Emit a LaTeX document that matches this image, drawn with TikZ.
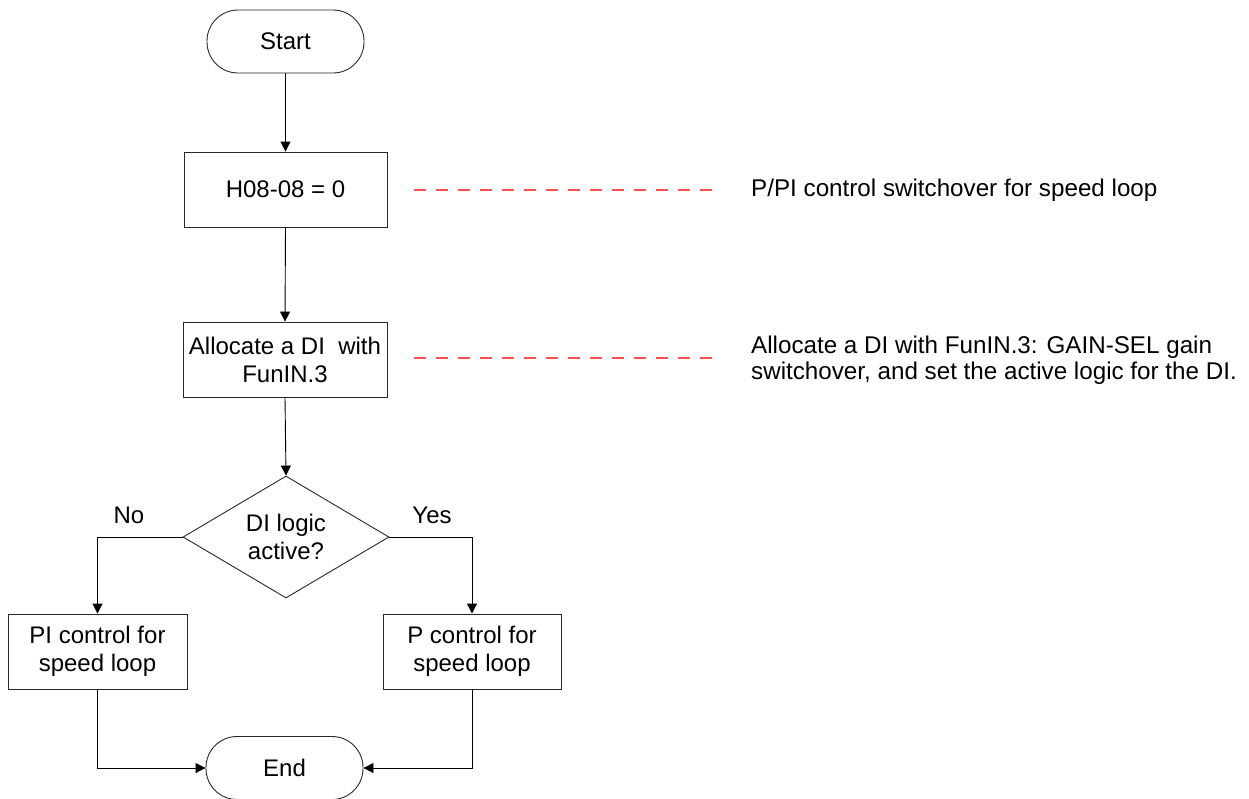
\documentclass[tikz,border=0pt]{standalone}
\usepackage{fontspec}
\setmainfont{Liberation Sans}
\usetikzlibrary{arrows.meta,shapes.geometric}
\definecolor{dashred}{RGB}{255,80,80}
\definecolor{lineblk}{RGB}{40,40,40}
\tikzset{
  every node/.style={font=\fontsize{24}{28}\selectfont, inner sep=0pt},
  procbox/.style={draw=lineblk, line width=0.9pt, rectangle, align=center},
  termbox/.style={draw=lineblk, line width=0.9pt, rectangle, rounded corners=31pt, align=center},
  decbox/.style={draw=lineblk, line width=0.9pt, diamond, aspect=1.69, align=center},
  flow/.style={draw=black, line width=0.9pt, -{Triangle[length=10pt,width=10pt]}},
  note/.style={anchor=west, align=left, font=\fontsize{24.2}{26}\selectfont},
  annot/.style={draw=dashred, line width=1.4pt, dash pattern=on 12pt off 10pt},
}
\begin{document}
\begin{tikzpicture}[x=1pt,y=-1pt]
\useasboundingbox (0,0) rectangle (1249,798);
\node[termbox, minimum width=157pt, minimum height=63pt] (start) at (285.5,41.5) {Start};
\node[procbox, minimum width=203pt, minimum height=75pt] (h08) at (285.5,189.5) {H08-08 = 0};
\node[procbox, minimum width=204pt, minimum height=75pt] (alloc) at (285,359.5) {Allocate a DI~ with\\FunIN.3};
\node[decbox, minimum width=206pt, minimum height=122pt] (dec) at (286,537) {DI logic\\active?};
\node[procbox, minimum width=179pt, minimum height=75pt] (pi) at (97.5,651.5) {PI control for\\speed loop};
\node[procbox, minimum width=178pt, minimum height=75pt] (p) at (472,651.5) {P control for\\speed loop};
\node[termbox, minimum width=157pt, minimum height=63pt] (end) at (284.5,768) {End};
\node (no) at (129,515) {No};
\node (yes) at (432,515) {Yes};

\draw[flow] (start.south) -- (h08.north);
\draw[flow] (h08.south) -- (alloc.north);
\draw[flow] (alloc.south) -- (dec.north);
\draw[flow] (dec.west) -| (pi.north);
\draw[flow] (dec.east) -| (p.north);
\draw[flow] (pi.south) |- (end.west);
\draw[flow] (p.south) |- (end.east);

\node[note] (n1) at (751,190) {P/PI control switchover for speed loop};
\node[note] (n2) at (751,360) {Allocate a DI with FunIN.3: GAIN-SEL gain\\switchover, and set the active logic for the DI.};
\coordinate (d1a) at (414,190);
\coordinate (d1b) at (712,190);
\coordinate (d2a) at (414,358);
\coordinate (d2b) at (712,358);
\draw[annot] (d1a) -- (d1b);
\draw[annot] (d2a) -- (d2b);
\end{tikzpicture}
\end{document}
